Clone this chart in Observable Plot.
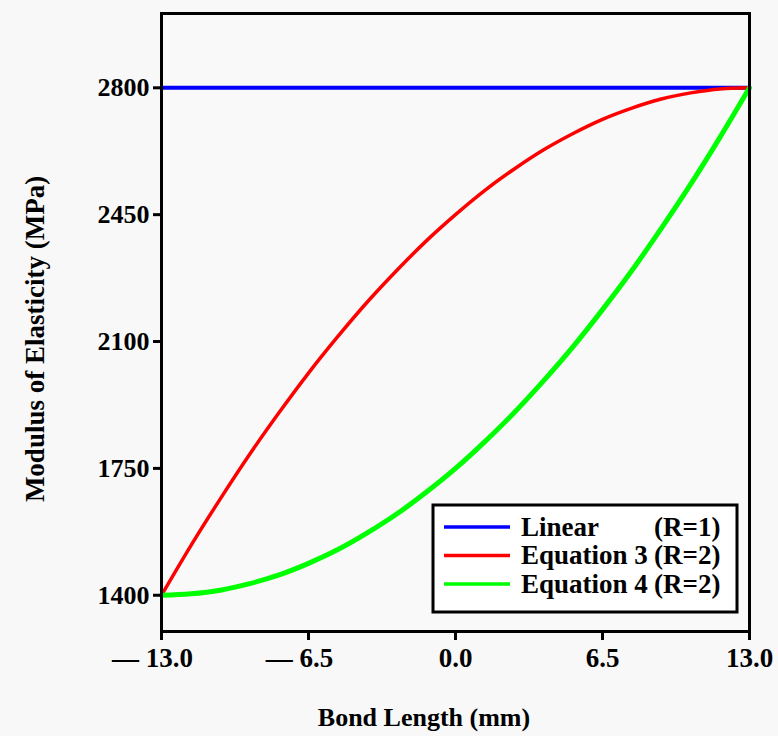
<!DOCTYPE html>
<html>
<head>
<meta charset="utf-8">
<script src="https://cdn.jsdelivr.net/npm/d3@7"></script>
<script src="https://cdn.jsdelivr.net/npm/@observablehq/plot@0.6"></script>
<style>
  html, body { margin: 0; padding: 0; background: #f8f8f8; }
  #chart { width: 778px; height: 736px; }
</style>
</head>
<body>
<div id="chart"></div>
<script>
// ---- data ----
const bondLength = [-13, -11.7, -10.4, -9.1, -7.8, -6.5, -5.2, -3.9, -2.6, -1.3, 0,
                    1.3, 2.6, 3.9, 5.2, 6.5, 7.8, 9.1, 10.4, 11.7, 13];
const linearE = [2800, 2800, 2800, 2800, 2800, 2800, 2800, 2800, 2800, 2800, 2800,
                 2800, 2800, 2800, 2800, 2800, 2800, 2800, 2800, 2800, 2800];
const equation3E = [1400, 1537, 1666, 1789, 1904, 2013, 2114, 2209, 2296, 2377, 2450,
                    2517, 2576, 2629, 2674, 2713, 2744, 2769, 2786, 2797, 2800];
const equation4E = [1400, 1404, 1414, 1432, 1456, 1488, 1526, 1572, 1624, 1684, 1750,
                    1824, 1904, 1992, 2086, 2188, 2296, 2412, 2534, 2664, 2800];
const seriesNames = ["Linear", "Equation 3", "Equation 4"];
const seriesR = ["(R=1)", "(R=2)", "(R=2)"];
const xTicks = [-13, -6.5, 0, 6.5, 13];
const yTicks = [1400, 1750, 2100, 2450, 2800];
const xTitle = "Bond Length (mm)";
const yTitle = "Modulus of Elasticity (MPa)";

// ---- styling ----
const colors = ["#0000ff", "#ff0000", "#00ff00"];
const widths = [4, 3.5, 5];
const serif = "'Liberation Serif', 'Times New Roman', serif";

const seriesValues = [linearE, equation3E, equation4E];
const rows = seriesNames.flatMap((name, s) =>
  bondLength.map((x, i) => ({x, y: seriesValues[s][i], series: name})));

const fmtX = d => d < 0 ? "\u2014 " + Math.abs(d).toFixed(1) : d.toFixed(1);

const plot = Plot.plot({
  width: 778,
  height: 736,
  marginLeft: 161,
  marginRight: 29,
  marginTop: 13,
  marginBottom: 105,
  style: {background: "transparent", fontFamily: serif, fontWeight: "bold", color: "#000", overflow: "visible"},
  x: {domain: [-13, 13], label: null},
  y: {domain: [1300, 3005], label: null},
  marks: [
    Plot.frame({fill: "#f9f9f9"}),
    ...seriesNames.map((name, s) =>
      Plot.line(rows.filter(r => r.series === name), {
        x: "x", y: "y", stroke: colors[s], strokeWidth: widths[s], curve: "monotone-x"
      })),
    Plot.axisX(xTicks, {tickSize: 9, tickPadding: 7, fontSize: 27, strokeWidth: 3, tickFormat: fmtX, label: null}),
    Plot.axisY(yTicks, {tickSize: 8, tickPadding: 4, fontSize: 26, strokeWidth: 3, tickFormat: d => String(d), label: null}),
    Plot.frame({stroke: "#000", strokeWidth: 3})
  ]
});

const svg = d3.select(plot);

// nudge negative x tick labels left like the reference
svg.selectAll("text").each(function() {
  const t = d3.select(this);
  if (t.text().startsWith("\u2014")) t.attr("dx", -9);
});

// axis titles
svg.append("text")
  .attr("x", 424).attr("y", 726)
  .attr("text-anchor", "middle")
  .attr("font-family", serif).attr("font-weight", "bold").attr("font-size", 26)
  .attr("fill", "#000")
  .text(xTitle);
svg.append("text")
  .attr("transform", "translate(35,339) rotate(-90)")
  .attr("text-anchor", "middle").attr("dy", "0.35em")
  .attr("font-family", serif).attr("font-weight", "bold").attr("font-size", 27)
  .attr("fill", "#000")
  .text(yTitle);

// legend inside plot area
const lg = svg.append("g").attr("text-anchor", "start");
lg.append("rect")
  .attr("x", 433).attr("y", 505).attr("width", 304).attr("height", 107)
  .attr("fill", "#fff").attr("stroke", "#000").attr("stroke-width", 3);
seriesNames.forEach((name, s) => {
  const cy = 527 + s * 28.5;
  lg.append("line")
    .attr("x1", 444).attr("x2", 510).attr("y1", cy).attr("y2", cy)
    .attr("stroke", colors[s]).attr("stroke-width", 3.5);
  lg.append("text")
    .attr("x", 521).attr("y", cy).attr("dy", "0.33em")
    .attr("text-anchor", "start")
    .attr("font-family", serif).attr("font-weight", "bold").attr("font-size", 27)
    .attr("fill", "#000").text(name);
  lg.append("text")
    .attr("x", 654).attr("y", cy).attr("dy", "0.33em")
    .attr("text-anchor", "start")
    .attr("font-family", serif).attr("font-weight", "bold").attr("font-size", 27)
    .attr("fill", "#000").text(seriesR[s]);
});

document.getElementById("chart").appendChild(plot);
</script>
</body>
</html>
